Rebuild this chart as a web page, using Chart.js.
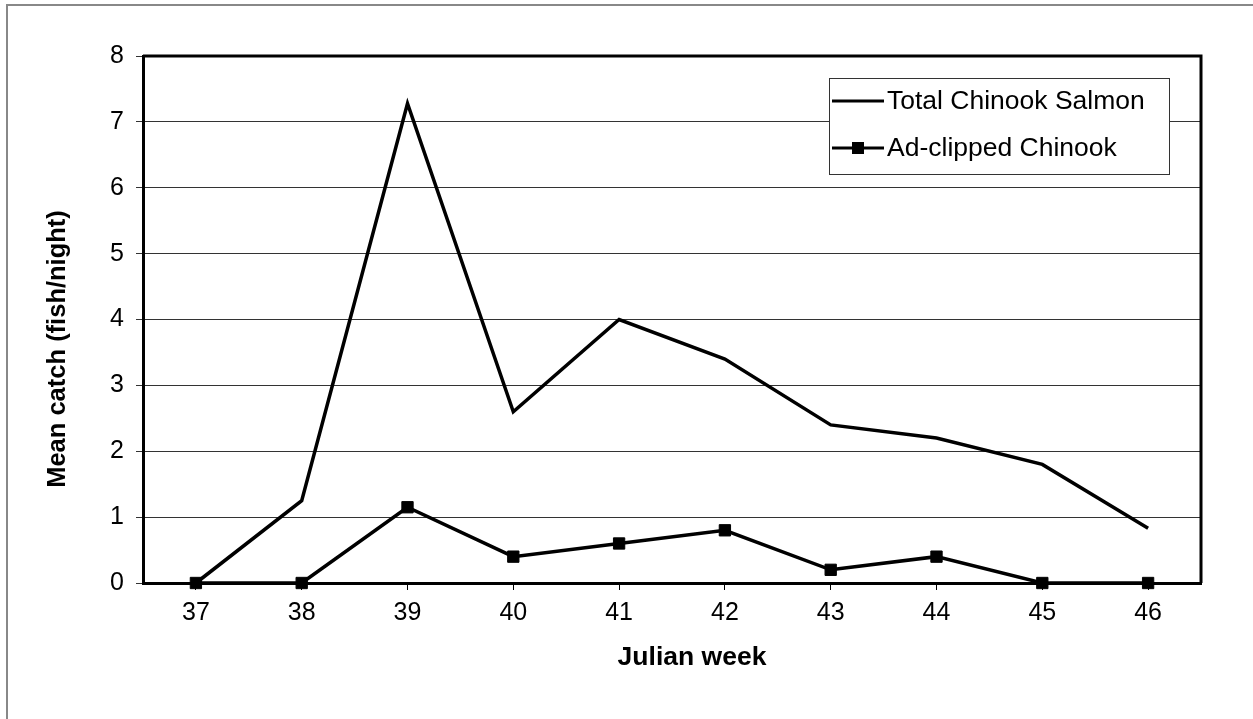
<!DOCTYPE html>
<html>
<head>
<meta charset="utf-8">
<script src="https://cdn.jsdelivr.net/npm/chart.js@4"></script>
<style>
  html, body { margin: 0; padding: 0; background: #fff; }
  #wrap { width: 1253px; height: 719px; position: relative; }
</style>
</head>
<body>
<div id="wrap"><canvas id="myChart" width="1253" height="719"></canvas></div>
<script>
// data
const weeks = ['37', '38', '39', '40', '41', '42', '43', '44', '45', '46'];
const totalChinook = [0, 1.25, 7.28, 2.6, 4.0, 3.4, 2.4, 2.2, 1.8, 0.83];
const adClipped = [0, 0, 1.15, 0.4, 0.6, 0.8, 0.2, 0.4, 0, 0];
const yTicks = [0, 1, 2, 3, 4, 5, 6, 7, 8];
const xTitle = 'Julian week';
const yTitle = 'Mean catch (fish/night)';

const FONT = "'Liberation Sans', Arial, sans-serif";

// outer frame, plot frame, axis titles and the boxed legend
const framePlugin = {
    id: 'frame',
    beforeDraw(chart) {
        const c = chart.ctx;
        c.save();
        c.strokeStyle = '#888';
        c.lineWidth = 2;
        c.beginPath();
        c.moveTo(7, 725);
        c.lineTo(7, 5);
        c.lineTo(1260, 5);
        c.stroke();
        c.restore();
    },
    afterDraw(chart) {
        const c = chart.ctx;
        const a = chart.chartArea;
        c.save();
        c.strokeStyle = '#000';
        c.lineWidth = 3;
        c.beginPath();
        c.moveTo(a.left, a.top);
        c.lineTo(a.right, a.top);
        c.lineTo(a.right, a.bottom);
        c.stroke();

        // axis titles (Excel put them a bit off centre)
        c.fillStyle = '#000';
        c.textAlign = 'center';
        c.textBaseline = 'middle';
        c.font = 'bold 26.5px ' + FONT;
        c.fillText(xTitle, 692, 658);
        c.save();
        c.translate(58, 349);
        c.rotate(-Math.PI / 2);
        c.font = 'bold 25.5px ' + FONT;
        c.fillText(yTitle, 0, 0);
        c.restore();

        // legend
        const lx = 829, ly = 78, lw = 340, lh = 96;
        c.fillStyle = '#fff';
        c.fillRect(lx, ly, lw, lh);
        c.strokeStyle = '#333';
        c.lineWidth = 1;
        c.strokeRect(lx + 0.5, ly + 0.5, lw, lh);
        const rows = [101, 148];
        chart.data.datasets.forEach((ds, i) => {
            const y = rows[i];
            c.strokeStyle = '#000';
            c.lineWidth = 3;
            c.beginPath();
            c.moveTo(832, y);
            c.lineTo(884, y);
            c.stroke();
            if (ds.pointRadius > 0) {
                c.fillStyle = '#000';
                c.fillRect(858 - 6, y - 6, 12, 12);
            }
            c.fillStyle = '#000';
            c.font = '26.5px ' + FONT;
            c.textBaseline = 'middle';
            c.textAlign = 'left';
            c.fillText(ds.label, 887, y + 1);
        });
        c.restore();
    }
};

const context = document.getElementById('myChart').getContext('2d');
const myChart = new Chart(context, {
    type: 'line',
    data: {
        labels: weeks,
        datasets: [
            {
                label: 'Total Chinook Salmon',
                data: totalChinook,
                borderColor: '#000',
                borderWidth: 3.5,
                pointRadius: 0,
                tension: 0,
                fill: false,
                clip: false
            },
            {
                label: 'Ad-clipped Chinook',
                data: adClipped,
                borderColor: '#000',
                backgroundColor: '#000',
                borderWidth: 3.5,
                pointStyle: 'rect',
                pointRadius: 8,
                pointBorderWidth: 1,
                pointBackgroundColor: '#000',
                pointBorderColor: '#000',
                tension: 0,
                fill: false,
                clip: false
            }
        ]
    },
    options: {
        responsive: false,
        animation: false,
        layout: { padding: { top: 56, right: 52, left: 0, bottom: 0 } },
        plugins: {
            legend: { display: false },
            tooltip: { enabled: false }
        },
        scales: {
            x: {
                offset: true,
                grid: {
                    offset: false,
                    drawOnChartArea: false,
                    color: '#000',
                    tickLength: 7,
                    tickWidth: 1
                },
                border: { color: '#000', width: 3 },
                ticks: {
                    color: '#000',
                    font: { family: FONT, size: 25 },
                    padding: 8,
                    maxRotation: 0
                },
                afterFit(scale) { scale.height = 136; }
            },
            y: {
                min: 0,
                max: 8,
                afterBuildTicks(scale) { scale.ticks = yTicks.map(v => ({ value: v })); },
                grid: {
                    color: '#333',
                    lineWidth: 1,
                    tickLength: 7
                },
                border: { color: '#000', width: 3 },
                ticks: {
                    color: '#000',
                    font: { family: FONT, size: 25 },
                    padding: 12
                },
                afterFit(scale) { scale.width = 143; }
            }
        }
    },
    plugins: [framePlugin]
});
</script>
</body>
</html>
